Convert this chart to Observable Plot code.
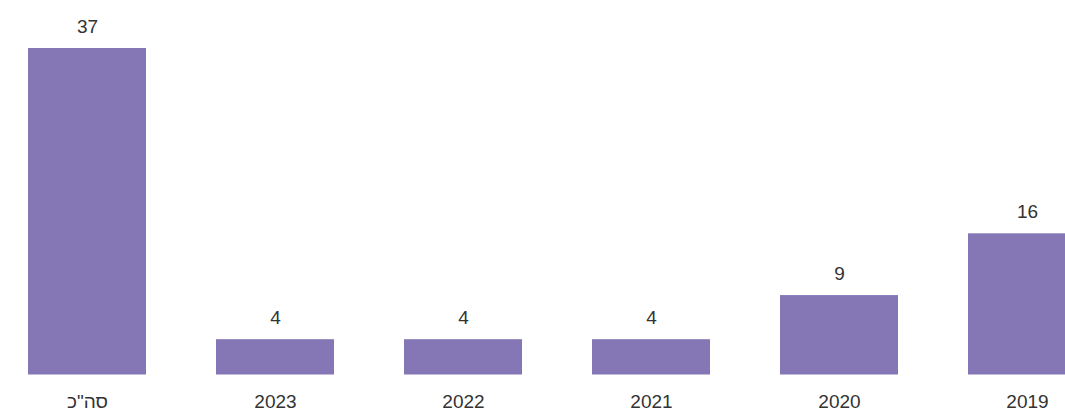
<!DOCTYPE html>
<html>
<head>
<meta charset="utf-8">
<script src="https://cdn.jsdelivr.net/npm/d3@7"></script>
<script src="https://cdn.jsdelivr.net/npm/@observablehq/plot@0.6"></script>
<style>
  html, body { margin: 0; padding: 0; background: #fff; overflow: hidden; }
  #chart svg { display: block; }
</style>
</head>
<body>
<div id="chart"></div>
<script>
const categories = ["סה\"כ", "2023", "2022", "2021", "2020", "2019"];
const values = [37, 4, 4, 4, 9, 16];

const data = categories.map((c, i) => ({category: c, value: values[i]}));

const chart = Plot.plot({
  width: 1065,
  height: 412,
  margin: 0,
  style: {fontFamily: "'Liberation Sans', Arial, sans-serif", color: "#333", background: "#fff"},
  x: {type: "band", domain: categories, range: [-43.65, 1157.4], padding: 0.375, axis: null},
  y: {domain: [0, 37], range: [374.5, 48], axis: null},
  marks: [
    Plot.barY(data, {x: "category", y: "value", fill: "#8576b6"}),
    Plot.text(data, {x: "category", y: "value", text: d => String(d.value), dy: -22, lineAnchor: "middle", fontSize: 19, fill: "#333"}),
    Plot.text(data, {x: "category", y: () => 0, text: "category", dy: 27, lineAnchor: "middle", fontSize: 19, fill: "#333"})
  ]
});
document.getElementById("chart").appendChild(chart);
</script>
</body>
</html>
